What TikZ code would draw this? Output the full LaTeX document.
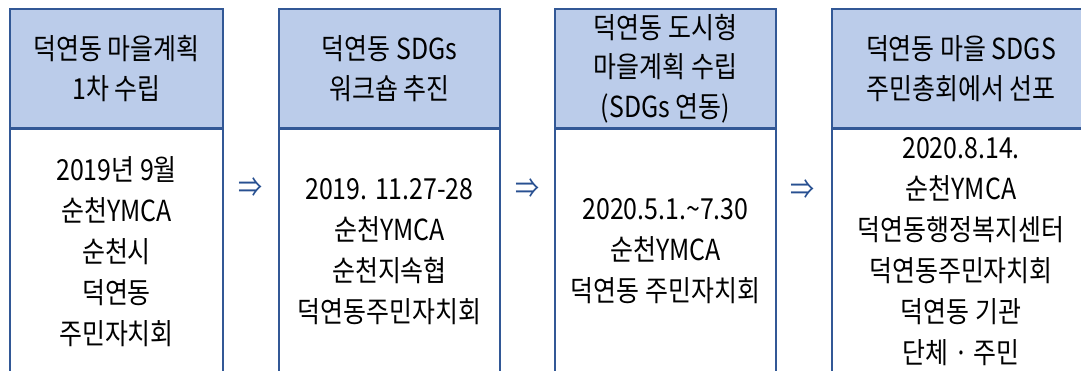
\documentclass[tikz,border=0pt]{standalone}
\usepackage{fontspec}
\setmainfont{Noto Sans CJK KR}
\newfontfamily\kr[FakeStretch=0.86]{Noto Sans CJK KR}
\definecolor{hdrfill}{RGB}{187,204,234}
\definecolor{edge}{RGB}{50,88,150}
\definecolor{arrowblue}{RGB}{40,80,145}
\tikzset{
  hdr/.style={draw=edge, line width=1.3pt, fill=hdrfill, minimum height=119pt, inner sep=0pt, align=center, font=\kr\fontsize{29}{39.5}\selectfont, text=black},
  bodybox/.style={draw=edge, line width=1.3pt, fill=white, minimum height=244pt, inner sep=0pt, align=center, font=\kr\fontsize{29}{41}\selectfont, text=black},
  flowarrow/.style={inner sep=0pt, text=arrowblue, font=\kr\fontsize{28}{28}\selectfont}
}
\begin{document}
\begin{tikzpicture}[x=1pt,y=-1pt]
\useasboundingbox (0,0) rectangle (1081,370);
\clip (0,0) rectangle (1081,370);
% column 1
\node[hdr, minimum width=213pt] (h1) at (116.5,68.5) {덕연동 마을계획\\1차 수립};
\node[bodybox, minimum width=213pt, anchor=north] (b1) at (h1.south) {2019년 9월\\순천YMCA\\순천시\\덕연동\\주민자치회};
% column 2
\node[hdr, minimum width=221pt] (h2) at (389.5,68.5) {덕연동 SDGs\\워크숍 추진};
\node[bodybox, minimum width=221pt, anchor=north] (b2) at (h2.south) {2019. 11.27-28\\순천YMCA\\순천지속협\\덕연동주민자치회};
% column 3
\node[hdr, minimum width=221pt] (h3) at (665.5,68.5) {덕연동 도시형\\마을계획 수립\\(SDGs 연동)};
\node[bodybox, minimum width=221pt, anchor=north] (b3) at (h3.south) {2020.5.1.\textasciitilde7.30\\순천YMCA\\덕연동 주민자치회};
% column 4
\node[hdr, minimum width=258pt] (h4) at (961,68.5) {덕연동 마을 SDGS\\주민총회에서 선포};
\node[bodybox, minimum width=258pt, anchor=north] (b4) at (h4.south) {2020.8.14.\\순천YMCA\\덕연동행정복지센터\\덕연동주민자치회\\덕연동 기관\\단체 · 주민};
% arrows
\node[flowarrow] (a1) at (251,188) {⇒};
\node[flowarrow] (a2) at (528,189) {⇒};
\node[flowarrow] (a3) at (803,190) {⇒};
\end{tikzpicture}
\end{document}
